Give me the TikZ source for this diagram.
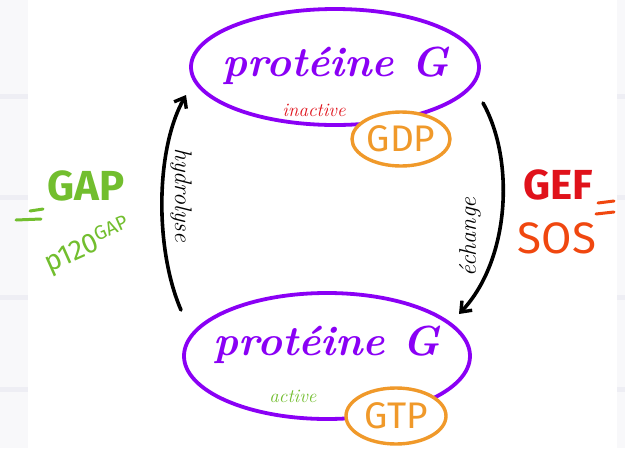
\documentclass[tikz,border=0pt]{standalone}
\usepackage{fontspec}
\setsansfont{Fira Sans}
\usetikzlibrary{arrows.meta,shapes.geometric}
\definecolor{gpurple}{HTML}{8A00F5}
\definecolor{gorange}{HTML}{F0992A}
\definecolor{gred}{HTML}{E0121B}
\definecolor{gsos}{HTML}{F0470F}
\definecolor{ggreen}{HTML}{72BE2E}
\definecolor{margin}{HTML}{F8F8FA}
\definecolor{stripe}{HTML}{EEEEF4}
\tikzset{
  nucl/.style={draw=gorange, line width=3.4pt, fill=white, text=gorange,
    font=\sffamily\fontsize{37}{37}\selectfont, inner sep=0pt},
  cursive/.style={font=\bfseries\itshape\fontsize{42}{42}\selectfont, text=gpurple},
  small/.style={font=\itshape\fontsize{19}{19}\selectfont},
  arclabel/.style={font=\itshape\fontsize{24}{24}\selectfont},
  cycle/.style={draw=black, line width=3.6pt, line cap=round,
    -{Straight Barb[length=9pt,width=14pt,line width=3.4pt]}},
  big/.style={font=\sffamily\bfseries\fontsize{42}{42}\selectfont},
  eqsign/.style={line width=3pt, line cap=round}
}
\begin{document}
\begin{tikzpicture}[x=1pt,y=-1pt]
  % page and side margins
  \useasboundingbox (0,0) rectangle (625,448);
  \fill[margin] (0,0) rectangle (625,448);
  \foreach \y in {94,195,295,387}{
    \fill[stripe] (0,\y) rectangle (28,\y+5);
    \fill[stripe] (617,\y) rectangle (625,\y+5);
  }
  \fill[white] (28,0) rectangle (617,448);

  % inactive G protein with GDP
  \draw[gpurple, line width=3.8pt] (335,67) ellipse [x radius=144, y radius=58];
  \node[cursive] (ptop) at (336,66) {protéine G};
  \node[small, text=gred] (inact) at (314,110) {inactive};
  \node[nucl, ellipse, minimum width=98pt, minimum height=54pt]
    (gdp) at (401,139) {GDP};

  % active G protein with GTP
  \draw[gpurple, line width=3.8pt] (327,356) ellipse [x radius=143, y radius=63];
  \node[cursive] (pbot) at (327,345) {protéine G};
  \node[small, text=ggreen] (act) at (293,396) {active};
  \node[nucl, ellipse, minimum width=100pt, minimum height=56pt]
    (gtp) at (396,416) {GTP};

  % cycle arrows
  \coordinate (lstart) at (181,310);
  \coordinate (lend) at (186,95);
  \coordinate (rstart) at (483,103);
  \coordinate (rend) at (459,314);
  \draw[cycle] (lstart) .. controls (155,250) and (155,150) .. (lend);
  \draw[cycle] (rstart) .. controls (515,160) and (510,260) .. (rend);
  \node[arclabel, rotate=-90] (hyd) at (181,195) {hydrolyse};
  \node[arclabel, rotate=90] (ech) at (470,237) {échange};

  % GAP side
  \node[big, text=ggreen] (gap) at (86,186) {GAP};
  \node[text=ggreen, font=\sffamily\fontsize{28}{28}\selectfont, rotate=24,
    inner sep=0pt] (p120) at (88,246) {p120\textsuperscript{GAP}};
  \draw[eqsign, ggreen] (30,211) -- (43,209);
  \draw[eqsign, ggreen] (16,220) -- (41,219);

  % GEF side
  \node[big, text=gred] (gef) at (558,185) {GEF};
  \node[text=gsos, font=\sffamily\fontsize{44}{44}\selectfont] (sos) at (557,238) {SOS};
  \draw[eqsign, gsos] (598,203) -- (614,201);
  \draw[eqsign, gsos] (596,214) -- (614,212);
\end{tikzpicture}
\end{document}
